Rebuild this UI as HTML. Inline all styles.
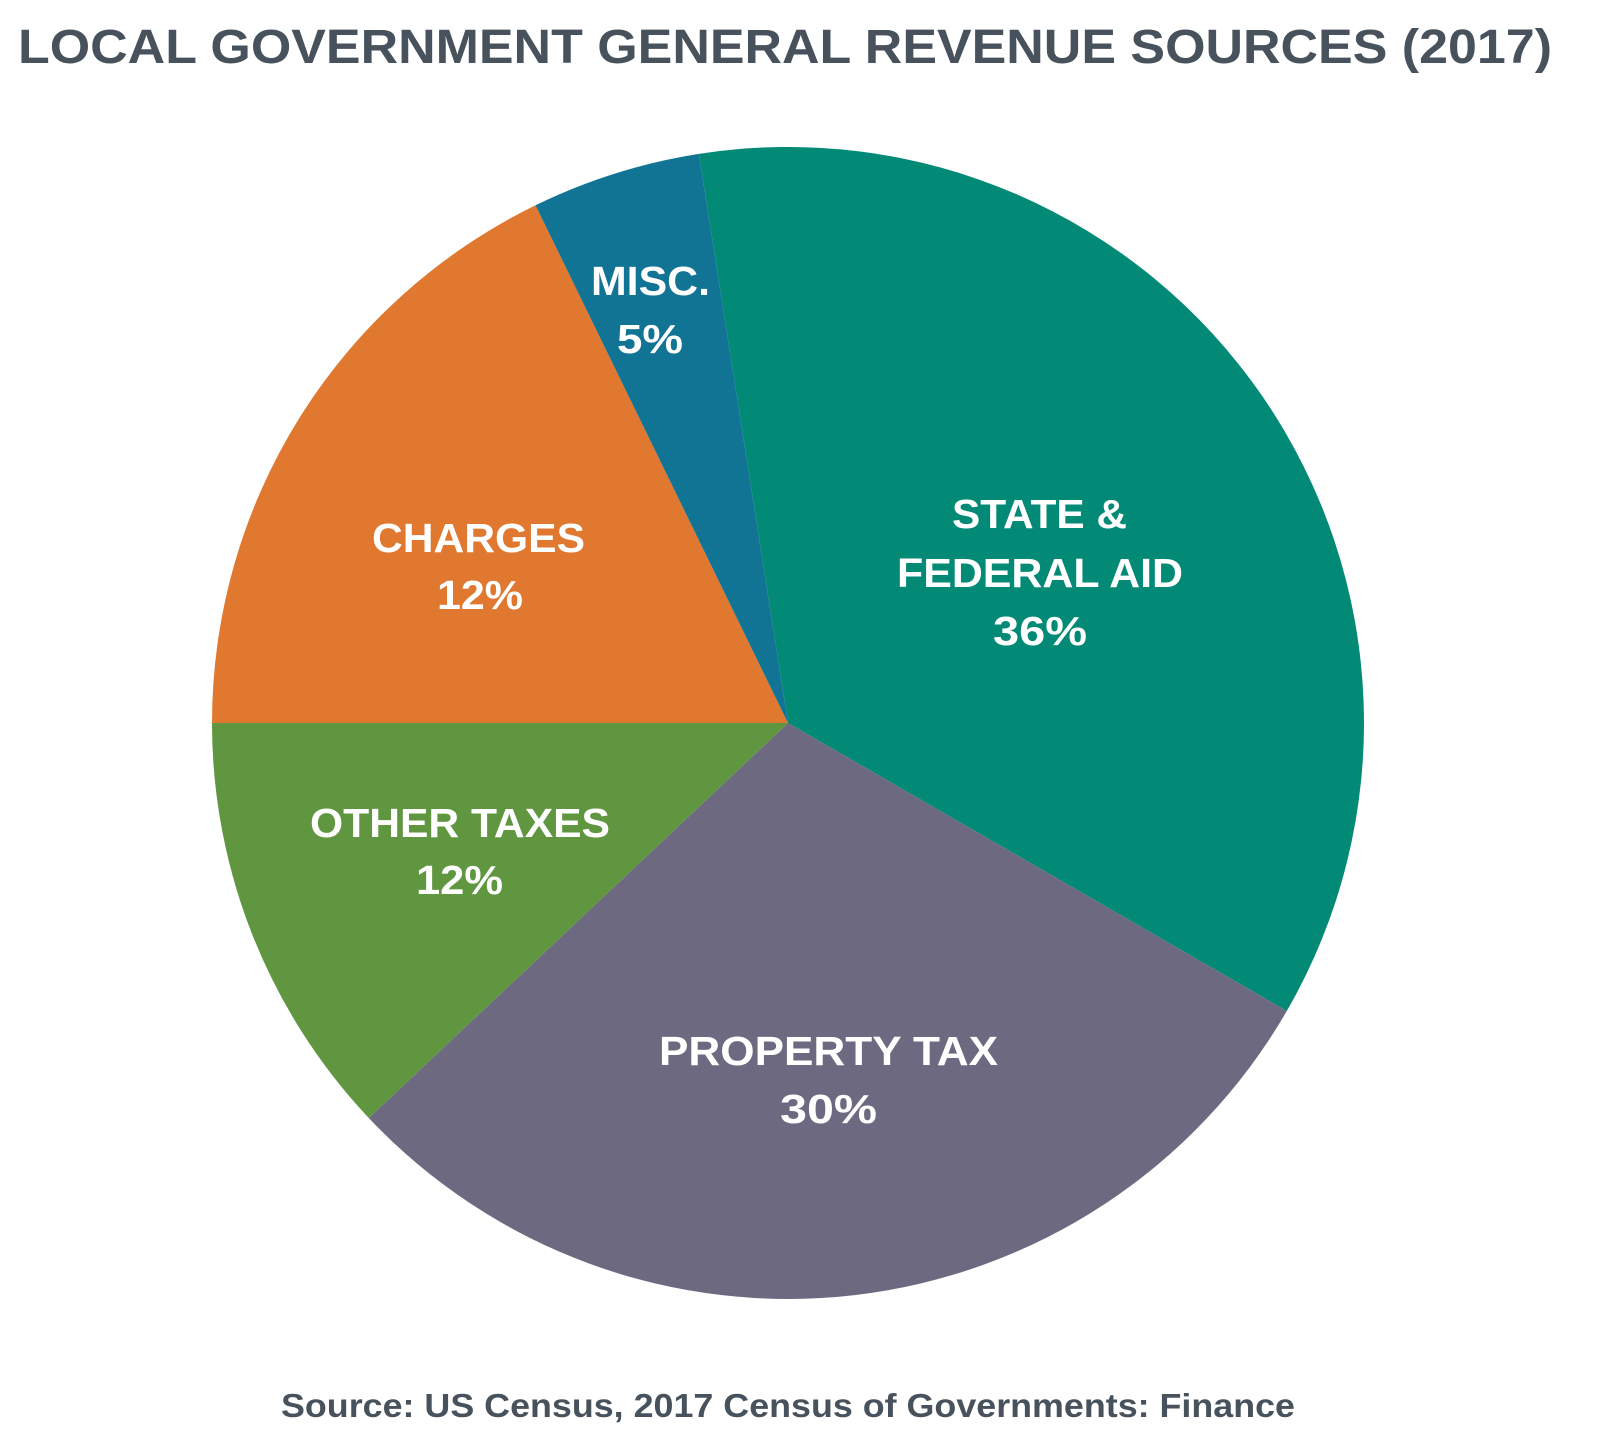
<!DOCTYPE html>
<html>
<head>
<meta charset="utf-8">
<style>
  html, body { margin: 0; padding: 0; background: #ffffff; }
  body { width: 1600px; height: 1434px; overflow: hidden; }
  svg { display: block; }
  .lbl { font-family: "Liberation Sans", sans-serif; font-weight: bold; fill: #ffffff; font-size: 41px; }
</style>
</head>
<body>
<svg width="1600" height="1434" viewBox="0 0 1600 1434" xmlns="http://www.w3.org/2000/svg">
  <rect width="1600" height="1434" fill="#ffffff"/>

  <!-- Title -->
  <text x="18" y="63" font-family="Liberation Sans, sans-serif" font-weight="bold" font-size="48" fill="#47525c" textLength="1534" lengthAdjust="spacingAndGlyphs">LOCAL GOVERNMENT GENERAL REVENUE SOURCES (2017)</text>

  <!-- Pie slices: center (788,723), r=576 -->
  <path d="M788,723 L698.9,153.9 A576,576 0 0 1 1286.8,1011 Z" fill="#028a77"/>
  <path d="M788,723 L1286.8,1011 A576,576 0 0 1 368.8,1118 Z" fill="#6d6980"/>
  <path d="M788,723 L368.8,1118 A576,576 0 0 1 212,723 Z" fill="#5f963f"/>
  <path d="M788,723 L212,723 A576,576 0 0 1 535.5,205.3 Z" fill="#e0782f"/>
  <path d="M788,723 L535.5,205.3 A576,576 0 0 1 698.9,153.9 Z" fill="#117495"/>

  <!-- Labels -->
  <text class="lbl" x="591" y="295" textLength="119" lengthAdjust="spacingAndGlyphs">MISC.</text>
  <text class="lbl" x="617" y="353" textLength="66" lengthAdjust="spacingAndGlyphs">5%</text>

  <text class="lbl" x="372" y="552" textLength="213" lengthAdjust="spacingAndGlyphs">CHARGES</text>
  <text class="lbl" x="437" y="609" textLength="86" lengthAdjust="spacingAndGlyphs">12%</text>

  <text class="lbl" x="310" y="837" textLength="300" lengthAdjust="spacingAndGlyphs">OTHER TAXES</text>
  <text class="lbl" x="416" y="894" textLength="87" lengthAdjust="spacingAndGlyphs">12%</text>

  <text class="lbl" x="952" y="528" textLength="175" lengthAdjust="spacingAndGlyphs">STATE &amp;</text>
  <text class="lbl" x="897" y="587" textLength="286" lengthAdjust="spacingAndGlyphs">FEDERAL AID</text>
  <text class="lbl" x="993" y="645" textLength="94" lengthAdjust="spacingAndGlyphs">36%</text>

  <text class="lbl" x="659" y="1065" textLength="339" lengthAdjust="spacingAndGlyphs">PROPERTY TAX</text>
  <text class="lbl" x="780" y="1123" textLength="97" lengthAdjust="spacingAndGlyphs">30%</text>

  <!-- Source -->
  <text x="281" y="1417" font-family="Liberation Sans, sans-serif" font-weight="bold" font-size="33" fill="#47525c" textLength="1014" lengthAdjust="spacingAndGlyphs">Source: US Census, 2017 Census of Governments: Finance</text>
</svg>
</body>
</html>
